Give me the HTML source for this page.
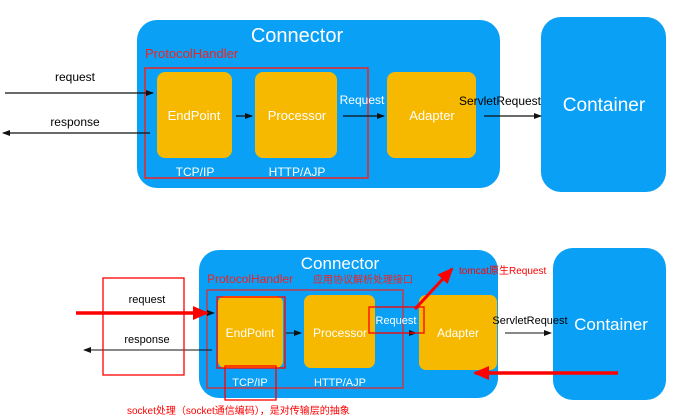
<!DOCTYPE html>
<html><head><meta charset="utf-8"><style>
html,body{margin:0;padding:0;background:#fff;}
svg{display:block;}
text{font-family:"Liberation Sans","Noto Sans CJK SC",sans-serif;}
</style></head><body>
<svg width="681" height="420" viewBox="0 0 681 420" xmlns="http://www.w3.org/2000/svg">
<defs>
<marker id="a" markerWidth="8" markerHeight="8" refX="7" refY="4" orient="auto" markerUnits="userSpaceOnUse"><path d="M0,1 L8,4 L0,7 z" fill="#111"/></marker>
<marker id="r" markerWidth="16" markerHeight="14" refX="14" refY="7" orient="auto" markerUnits="userSpaceOnUse"><path d="M0,0 L16,7 L0,14 z" fill="#f00"/></marker>
</defs>
<!-- TOP -->
<rect x="137" y="20" width="363" height="168" rx="20" fill="#0aa0f5"/>
<rect x="541" y="17" width="125" height="175" rx="20" fill="#0aa0f5"/>
<text x="297" y="42" font-size="20" fill="#fff" text-anchor="middle">Connector</text>
<text x="145" y="58" font-size="13" fill="#e22">ProtocolHandler</text>
<rect x="157" y="72" width="75" height="86" rx="8" fill="#f7b800"/>
<rect x="255" y="72" width="82" height="86" rx="8" fill="#f7b800"/>
<rect x="387" y="72" width="89" height="86" rx="8" fill="#f7b800"/>
<rect x="145" y="68" width="223" height="110" fill="none" stroke="#e22" stroke-width="1.5"/>
<text x="194" y="120" font-size="13" fill="#fff" text-anchor="middle">EndPoint</text>
<text x="297" y="120" font-size="13" fill="#fff" text-anchor="middle">Processor</text>
<text x="432" y="120" font-size="13" fill="#fff" text-anchor="middle">Adapter</text>
<text x="195" y="176" font-size="12" fill="#fff" text-anchor="middle">TCP/IP</text>
<text x="297" y="176" font-size="12" fill="#fff" text-anchor="middle">HTTP/AJP</text>
<text x="362" y="104" font-size="12" fill="#fff" text-anchor="middle">Request</text>
<text x="500" y="105" font-size="12" fill="#000" text-anchor="middle">ServletRequest</text>
<text x="604" y="111" font-size="19" fill="#fff" text-anchor="middle">Container</text>
<text x="75" y="81" font-size="12" fill="#000" text-anchor="middle">request</text>
<text x="75" y="126" font-size="12" fill="#000" text-anchor="middle">response</text>
<line x1="5" y1="93" x2="153" y2="93" stroke="#111" stroke-width="1.2" marker-end="url(#a)"/>
<line x1="150" y1="133" x2="3" y2="133" stroke="#111" stroke-width="1.2" marker-end="url(#a)"/>
<line x1="236" y1="116" x2="252" y2="116" stroke="#111" stroke-width="1.2" marker-end="url(#a)"/>
<line x1="343" y1="116" x2="384" y2="116" stroke="#111" stroke-width="1.2" marker-end="url(#a)"/>
<line x1="484" y1="116" x2="541" y2="116" stroke="#111" stroke-width="1.2" marker-end="url(#a)"/>
<!-- BOTTOM -->
<rect x="199" y="250" width="299" height="148" rx="20" fill="#0aa0f5"/>
<rect x="553" y="248" width="113" height="152" rx="20" fill="#0aa0f5"/>
<text x="340" y="269" font-size="17" fill="#fff" text-anchor="middle">Connector</text>
<text x="207" y="283" font-size="12" fill="#e22">ProtocolHandler</text>
<text x="313" y="283" font-size="10" fill="#e22">应用协议解析处理接口</text>
<rect x="218" y="296" width="65" height="72" rx="7" fill="#f7b800"/>
<rect x="304" y="295" width="71" height="73" rx="7" fill="#f7b800"/>
<rect x="419" y="295" width="78" height="75" rx="7" fill="#f7b800"/>
<rect x="207" y="290" width="196" height="98" fill="none" stroke="#e22" stroke-width="1.2"/>
<text x="250" y="337" font-size="12" fill="#fff" text-anchor="middle">EndPoint</text>
<text x="340" y="337" font-size="12" fill="#fff" text-anchor="middle">Processor</text>
<text x="458" y="337" font-size="12" fill="#fff" text-anchor="middle">Adapter</text>
<text x="250" y="386" font-size="11" fill="#fff" text-anchor="middle">TCP/IP</text>
<text x="340" y="386" font-size="11" fill="#fff" text-anchor="middle">HTTP/AJP</text>
<text x="396" y="324" font-size="11" fill="#fff" text-anchor="middle">Request</text>
<text x="530" y="324" font-size="11" fill="#000" text-anchor="middle">ServletRequest</text>
<text x="611" y="330" font-size="17" fill="#fff" text-anchor="middle">Container</text>
<text x="147" y="303" font-size="11" fill="#000" text-anchor="middle">request</text>
<text x="147" y="343" font-size="11" fill="#000" text-anchor="middle">response</text>
<line x1="190" y1="313" x2="214" y2="313" stroke="#111" stroke-width="1" marker-end="url(#a)"/>
<line x1="212" y1="350" x2="84" y2="350" stroke="#111" stroke-width="1" marker-end="url(#a)"/>
<line x1="286" y1="333" x2="301" y2="333" stroke="#111" stroke-width="1" marker-end="url(#a)"/>
<line x1="380" y1="333" x2="416" y2="333" stroke="#111" stroke-width="1" marker-end="url(#a)"/>
<line x1="505" y1="333" x2="551" y2="333" stroke="#111" stroke-width="1" marker-end="url(#a)"/>
<!-- red annotations -->
<rect x="103" y="278" width="81" height="97" fill="none" stroke="#f00" stroke-width="1.3"/>
<rect x="217" y="297" width="68" height="71" fill="none" stroke="#f00" stroke-width="1.3"/>
<rect x="225" y="366" width="51" height="34" fill="none" stroke="#f00" stroke-width="1.3"/>
<rect x="369" y="307" width="55" height="26" fill="none" stroke="#f00" stroke-width="1.3"/>
<line x1="76" y1="313" x2="207" y2="313" stroke="#f00" stroke-width="3.5" marker-end="url(#r)"/>
<line x1="618" y1="373" x2="475" y2="373" stroke="#f00" stroke-width="3.5" marker-end="url(#r)"/>
<line x1="415" y1="309" x2="452" y2="269" stroke="#f00" stroke-width="3" marker-end="url(#r)"/>
<text x="459" y="274" font-size="10" fill="#f00">tomcat原生Request</text>
<text x="127" y="414" font-size="10" fill="#f00">socket处理（socket通信编码），是对传输层的抽象</text>
</svg>
</body></html>
